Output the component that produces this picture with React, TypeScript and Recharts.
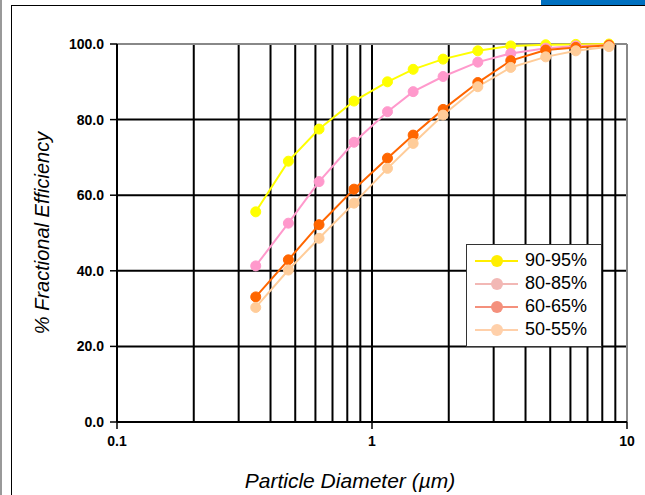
import React from "react";
import {
  LineChart,
  Line,
  XAxis,
  YAxis,
  ReferenceLine,
  Legend,
} from "recharts";

// particle diameter (µm) and fractional efficiency (%) per filter grade
const sizes = [0.35, 0.47, 0.62, 0.85, 1.15, 1.45, 1.9, 2.6, 3.5, 4.8, 6.3, 8.5];
const eff90 = [55.6, 69.0, 77.5, 84.9, 90.0, 93.3, 96.0, 98.2, 99.5, 99.8, 99.9, 100];
const eff80 = [41.3, 52.6, 63.6, 74.0, 82.1, 87.4, 91.4, 95.2, 97.5, 98.9, 99.5, 99.7];
const eff60 = [33.1, 42.9, 52.2, 61.6, 69.8, 75.9, 82.7, 89.8, 95.6, 98.4, 99.1, 99.7];
const eff50 = [30.3, 40.2, 48.6, 57.9, 67.1, 73.7, 81.2, 88.7, 93.8, 96.6, 98.2, 99.3];

const seriesNames = ["90-95%", "80-85%", "60-65%", "50-55%"];
const xTicks = [0.1, 1, 10];
const xMinor = [0.2, 0.3, 0.4, 0.5, 0.6, 0.7, 0.8, 0.9, 1, 2, 3, 4, 5, 6, 7, 8, 9];
const yTicks = [0, 20, 40, 60, 80, 100];
const yGrid = [20, 40, 60, 80];

const data = sizes.map((d, i) => ({
  d,
  s90: eff90[i],
  s80: eff80[i],
  s60: eff60[i],
  s50: eff50[i],
}));

const series = [
  { key: "s90", name: seriesNames[0], color: "#FFFF00", legend: "#FFEE00" },
  { key: "s80", name: seriesNames[1], color: "#FF99CC", legend: "#F2B8B5" },
  { key: "s60", name: seriesNames[2], color: "#FF6600", legend: "#F4907C" },
  { key: "s50", name: seriesNames[3], color: "#FFCC99", legend: "#FFD0AA" },
];

const font = "'Liberation Sans', Arial, sans-serif";

function YTitle(props: any) {
  const vb = props.viewBox || { x: 0, y: 44, width: 117, height: 378 };
  const x = vb.x + 42;
  const y = vb.y + vb.height / 2;
  return (
    <text
      x={x}
      y={y}
      transform={`rotate(-90 ${x} ${y})`}
      textAnchor="middle"
      dominantBaseline="central"
      fontFamily={font}
      fontStyle="italic"
      fontSize={20}
      fill="#000"
    >
      % Fractional Efficiency
    </text>
  );
}

function XTitle(props: any) {
  const vb = props.viewBox || { x: 117, y: 422, width: 510, height: 73 };
  return (
    <text
      x={vb.x + vb.width / 2 - 22}
      y={vb.y + 66}
      textAnchor="middle"
      fontFamily={font}
      fontStyle="italic"
      fontSize={21}
      fill="#000"
    >
      Particle Diameter (µm)
    </text>
  );
}

function LegendBox() {
  return (
    <div
      style={{
        width: 136,
        height: 103,
        border: "1px solid #333",
        background: "#fff",
        boxSizing: "border-box",
        paddingTop: 4,
        fontFamily: font,
      }}
    >
      {series.map((s) => (
        <div key={s.key} style={{ display: "flex", alignItems: "center", height: 23 }}>
          <svg width={58} height={20} style={{ display: "block" }}>
            <line x1={8} y1={10} x2={51} y2={10} stroke={s.legend} strokeWidth={2} />
            <circle cx={30} cy={10} r={6} fill={s.legend} />
          </svg>
          <span style={{ fontSize: 18, color: "#000" }}>{s.name}</span>
        </div>
      ))}
    </div>
  );
}

export default function App() {
  return (
    <div style={{ position: "absolute", left: 0, top: 0, width: 645, height: 495, background: "#fff" }}>
      <div style={{ position: "absolute", left: 0, top: 0, width: 2, height: 495, background: "#999" }} />
      <div
        style={{
          position: "absolute",
          left: 11,
          top: 5,
          width: 634,
          height: 490,
          borderLeft: "1.5px solid #000",
          borderTop: "1.5px solid #000",
        }}
      />
      <div style={{ position: "absolute", left: 541, top: 0, width: 104, height: 5, background: "#0070C0" }} />
      <LineChart
        width={645}
        height={495}
        data={data}
        margin={{ top: 44, right: 18, bottom: 0, left: 0 }}
        style={{ position: "absolute", left: 0, top: 0 }}
      >
        <XAxis
          dataKey="d"
          type="number"
          scale="log"
          domain={[0.1, 10]}
          ticks={xTicks}
          allowDataOverflow
          height={73}
          tickSize={7}
          tickMargin={7}
          tickFormatter={(v: number) => String(v)}
          tick={{ fill: "#000", fontSize: 14, fontFamily: font, fontWeight: "bold" }}
          axisLine={{ stroke: "#000", strokeWidth: 2 }}
          tickLine={{ stroke: "#000", strokeWidth: 1.5 }}
          label={<XTitle />}
        />
        <YAxis
          type="number"
          domain={[0, 100]}
          ticks={yTicks}
          width={117}
          tickSize={7}
          tickMargin={6}
          tickFormatter={(v: number) => v.toFixed(1)}
          tick={{ fill: "#000", fontSize: 14, fontFamily: font, fontWeight: "bold" }}
          axisLine={{ stroke: "#000", strokeWidth: 2 }}
          tickLine={{ stroke: "#000", strokeWidth: 1.5 }}
          label={<YTitle />}
        />
        {xMinor.map((v) => (
          <ReferenceLine key={"x" + v} x={v} stroke="#000" strokeWidth={2} />
        ))}
        {yGrid.map((v) => (
          <ReferenceLine key={"y" + v} y={v} stroke="#000" strokeWidth={2} />
        ))}
        <ReferenceLine y={100} stroke="#888" strokeWidth={2} />
        <ReferenceLine x={10} stroke="#888" strokeWidth={2} />
        <Legend
          layout="horizontal"
          verticalAlign="middle"
          align="center"
          wrapperStyle={{ left: 466, top: 244, width: 136 }}
          content={() => <LegendBox />}
        />
        {series.map((s) => (
          <Line
            key={s.key}
            type="linear"
            dataKey={s.key}
            name={s.name}
            stroke={s.color}
            strokeWidth={2}
            dot={{ r: 5, fill: s.color, stroke: s.color, strokeWidth: 1 }}
            isAnimationActive={false}
          />
        ))}
      </LineChart>
    </div>
  );
}
